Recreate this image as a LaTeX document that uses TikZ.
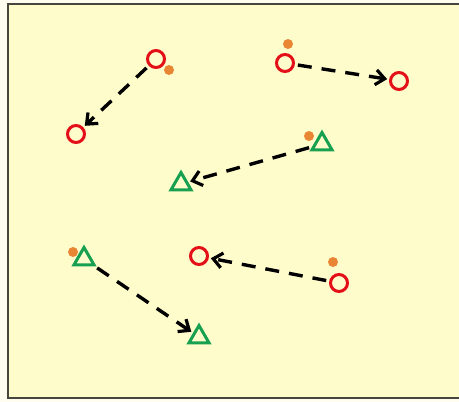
\documentclass[tikz,border=0pt]{standalone}
\usetikzlibrary{arrows.meta,shapes.geometric}
\definecolor{paper}{RGB}{255,253,240}
\definecolor{field}{RGB}{255,252,204}
\definecolor{framecol}{RGB}{70,70,60}
\definecolor{cone}{RGB}{228,16,24}
\definecolor{tri}{RGB}{22,160,80}
\definecolor{ball}{RGB}{232,134,52}
\tikzset{
  disc/.style={circle,draw=cone,line width=3pt,minimum size=17pt,inner sep=0pt},
  trimark/.style={regular polygon,regular polygon sides=3,draw=tri,line width=3pt,minimum size=23pt,inner sep=0pt},
  dotball/.style={circle,fill=ball,minimum size=10pt,inner sep=0pt},
  run/.style={line width=3.4pt,dash pattern=on 14pt off 10pt,shorten <=3pt,shorten >=2pt,
    -{Straight Barb[length=9pt,width=15pt,line width=3.2pt]}}
}
\begin{document}
\begin{tikzpicture}[x=1pt,y=-1pt]
  \useasboundingbox (0,0) rectangle (459,402);
  \fill[paper] (0,0) rectangle (459,402);
  \fill[field] (8,4) rectangle (465,398);
  \draw[framecol,line width=2pt] (465,4) -- (8,4) -- (8,398) -- (465,398);

  % circle markers
  \node[disc] (a1) at (156,59) {};
  \node[disc] (a2) at (76,134) {};
  \node[disc] (b1) at (285,63) {};
  \node[disc] (b2) at (399,81) {};
  \node[disc] (e1) at (339,283) {};
  \node[disc] (e2) at (199,256) {};

  % triangle markers
  \node[trimark] (c1) at (322,144) {};
  \node[trimark] (c2) at (181,184) {};
  \node[trimark] (d1) at (84,259) {};
  \node[trimark] (d2) at (199,337) {};

  % balls
  \node[dotball] (ba) at (169,70) {};
  \node[dotball] (bb) at (288,44) {};
  \node[dotball] (bc) at (309,136) {};
  \node[dotball] (bd) at (73,252) {};
  \node[dotball] (be) at (333,262) {};

  % runs
  \draw[run] (a1) -- (a2);
  \draw[run] (b1) -- (b2);
  \draw[run] (c1) -- (c2);
  \draw[run] (d1) -- (d2);
  \draw[run] (e1) -- (e2);
\end{tikzpicture}
\end{document}
